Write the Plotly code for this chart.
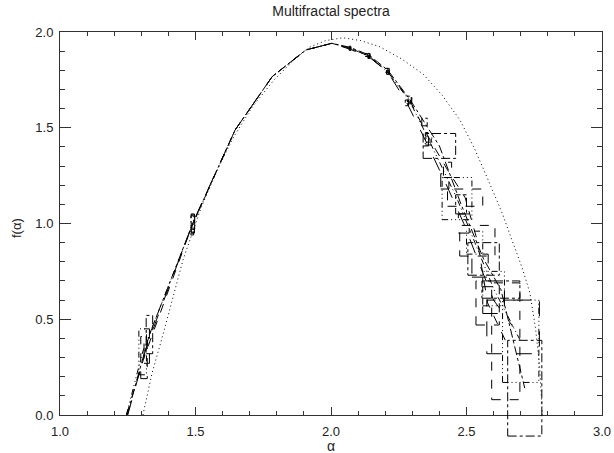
import plotly.graph_objects as go

# theoretical spectrum (dotted)
alpha_th = [1.306, 1.34, 1.38, 1.454, 1.52, 1.58, 1.64, 1.71, 1.79, 1.86, 1.92, 1.98, 2.044, 2.11, 2.18, 2.26,
            2.34, 2.41, 2.476, 2.53, 2.58, 2.63, 2.672, 2.705, 2.734, 2.755, 2.77, 2.78]
f_th = [0.00, 0.22, 0.42, 0.81, 1.08, 1.28, 1.45, 1.61, 1.75, 1.85, 1.92, 1.955, 1.97, 1.955, 1.923, 1.86,
        1.78, 1.67, 1.54, 1.39, 1.227, 1.06, 0.897, 0.77, 0.637, 0.45, 0.25, 0.00]

# measured spectra, with error half-widths in alpha and f
alpha_a = [1.245, 1.31, 1.49, 1.646, 1.783, 1.907, 2.003, 2.07, 2.13, 2.205, 2.29, 2.36, 2.43, 2.495, 2.54, 2.578, 2.645]
f_a = [0.00, 0.30, 1.00, 1.488, 1.767, 1.906, 1.941, 1.915, 1.88, 1.80, 1.645, 1.45, 1.28, 1.135, 0.91, 0.585, 0.385]
dx_a = [0, 0.012, 0.006, 0, 0, 0, 0, 0.003, 0.004, 0.005, 0.006, 0.01, 0.015, 0.065, 0.065, 0.043, 0.052]
dy_a = [0, 0.11, 0.05, 0, 0, 0, 0, 0.006, 0.008, 0.01, 0.015, 0.025, 0.04, 0.045, 0.08, 0.115, 0.305]

alpha_b = [1.248, 1.33, 1.49, 1.646, 1.783, 1.907, 2.003, 2.07, 2.14, 2.21, 2.29, 2.345, 2.40, 2.48, 2.563, 2.627, 2.715]
f_b = [0.00, 0.42, 1.00, 1.488, 1.767, 1.906, 1.941, 1.92, 1.88, 1.80, 1.65, 1.53, 1.405, 1.10, 0.815, 0.655, 0.14]
dx_b = [0, 0.012, 0.006, 0, 0, 0, 0, 0.003, 0.004, 0.005, 0.008, 0.01, 0.06, 0.02, 0.058, 0.07, 0.063]
dy_b = [0, 0.10, 0.045, 0, 0, 0, 0, 0.006, 0.008, 0.01, 0.015, 0.02, 0.065, 0.05, 0.085, 0.045, 0.25]

alpha_c = [1.245, 1.305, 1.488, 1.646, 1.783, 1.907, 2.003, 2.07, 2.14, 2.21, 2.29, 2.36, 2.465, 2.53, 2.60, 2.70]
f_c = [0.00, 0.33, 0.99, 1.488, 1.767, 1.906, 1.941, 1.915, 1.875, 1.79, 1.64, 1.44, 1.13, 0.90, 0.66, 0.385]
dx_c = [0, 0.014, 0.005, 0, 0, 0, 0, 0.003, 0.004, 0.005, 0.008, 0.012, 0.055, 0.03, 0.04, 0.067]
dy_c = [0, 0.12, 0.05, 0, 0, 0, 0, 0.006, 0.008, 0.01, 0.015, 0.03, 0.11, 0.06, 0.09, 0.215]

alpha_d = [1.25, 1.32, 1.492, 1.646, 1.783, 1.907, 2.003, 2.07, 2.14, 2.21, 2.28, 2.35, 2.42, 2.49, 2.55, 2.60, 2.672]
f_d = [0.00, 0.36, 1.01, 1.488, 1.767, 1.906, 1.941, 1.91, 1.87, 1.79, 1.63, 1.43, 1.22, 1.00, 0.78, 0.60, 0.46]
dx_d = [0, 0.01, 0.005, 0, 0, 0, 0, 0.003, 0.004, 0.005, 0.006, 0.01, 0.015, 0.02, 0.03, 0.04, 0.097]
dy_d = [0, 0.09, 0.04, 0, 0, 0, 0, 0.006, 0.008, 0.01, 0.015, 0.025, 0.04, 0.05, 0.06, 0.07, 0.14]

dashdotdot = "6px,3px,1px,3px,1px,3px,1px,3px"
series = [
    (alpha_a, f_a, dx_a, dy_a, "dash"),
    (alpha_b, f_b, dx_b, dy_b, "dashdot"),
    (alpha_c, f_c, dx_c, dy_c, dashdotdot),
    (alpha_d, f_d, dx_d, dy_d, "longdash"),
]


def boxes(xs, ys, dxs, dys):
    bx, by = [], []
    for x, y, dx, dy in zip(xs, ys, dxs, dys):
        if dx == 0 and dy == 0:
            continue
        bx += [x - dx, x + dx, x + dx, x - dx, x - dx, None]
        by += [y - dy, y - dy, y + dy, y + dy, y - dy, None]
    return bx, by


# layout in pixels: plot box 60..602 x 32..415, data may spill below to 445
H = 453
top, bottom_axis, bottom_area = 32, 415, 445
area_h = bottom_area - top
dom0 = (bottom_area - bottom_axis) / area_h
y2_min = -2.0 * (bottom_area - bottom_axis) / (bottom_axis - top)

fig = go.Figure()
# theory curve sits on the main axes (keeps the framed subplot alive)
fig.add_trace(go.Scatter(x=alpha_th, y=f_th, mode='lines', xaxis='x', yaxis='y',
                         line=dict(color='black', width=1, dash='1px,3px')))
# measured curves on an unframed overlay so boxes can spill below the axis
for xs, ys, dxs, dys, dash in series:
    fig.add_trace(go.Scatter(x=xs, y=ys, mode='lines', xaxis='x2', yaxis='y2',
                             line=dict(color='black', width=1, dash=dash)))
    bx, by = boxes(xs, ys, dxs, dys)
    fig.add_trace(go.Scatter(x=bx, y=by, mode='lines', xaxis='x2', yaxis='y2',
                             line=dict(color='black', width=1, dash=dash)))

axis_col = '#333333'
fig.update_layout(
    width=614, height=H,
    margin=dict(l=60, r=12, t=top, b=H - bottom_area, autoexpand=False),
    paper_bgcolor='white', plot_bgcolor='rgba(0,0,0,0)',
    showlegend=False,
    font=dict(family='Liberation Sans, Arial, sans-serif', size=13, color='#222222'),
    title=dict(text='Multifractal spectra', x=0.5, xref='paper', y=1 - 11 / H,
               yanchor='middle', font=dict(size=14)),
    xaxis=dict(domain=[0, 1], anchor='y', range=[1, 3], tick0=1, dtick=0.5, tickformat='.1f',
               ticks='inside', ticklen=8, tickcolor=axis_col, showline=True, linecolor=axis_col,
               linewidth=1, mirror='ticks', showgrid=False, zeroline=False, ticklabelstandoff=4,
               automargin=False,
               minor=dict(dtick=0.1, tick0=1, ticks='inside', ticklen=4, tickcolor=axis_col, showgrid=False)),
    yaxis=dict(domain=[dom0, 1], anchor='x', range=[0, 2], tick0=0, dtick=0.5, tickformat='.1f',
               ticks='inside', ticklen=11, tickcolor=axis_col, showline=True, linecolor=axis_col,
               linewidth=1, mirror='ticks', showgrid=False, zeroline=False, ticklabelstandoff=3,
               automargin=False,
               minor=dict(dtick=0.1, tick0=0, ticks='inside', ticklen=5, tickcolor=axis_col, showgrid=False)),
    xaxis2=dict(domain=[0, 1], anchor='y2', range=[1, 3], showline=False, showticklabels=False,
                ticks='', showgrid=False, zeroline=False, automargin=False),
    yaxis2=dict(domain=[0, 1], anchor='x2', range=[y2_min, 2], showline=False, showticklabels=False,
                ticks='', showgrid=False, zeroline=False, automargin=False),
)

# axis titles
fig.add_annotation(text='α', xref='paper', yref='paper', x=0.5, y=-1 / area_h,
                   yanchor='middle', showarrow=False, font=dict(size=14))
fig.add_annotation(text='f(α)', xref='paper', yref='paper', x=-43 / 542, xanchor='center',
                   y=(bottom_area - 228) / area_h, yanchor='middle', textangle=-90,
                   showarrow=False, font=dict(size=13))

# drop the default page margin so the 614x453 figure fills the window exactly
fig.write_html("out.html", config={'displayModeBar': False},
               post_script="document.body.style.margin='0';")
